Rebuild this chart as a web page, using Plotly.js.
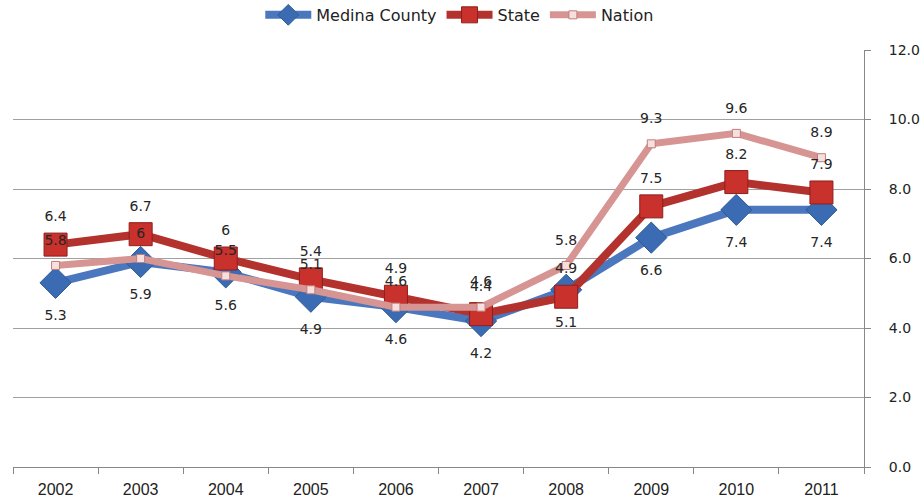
<!DOCTYPE html>
<html><head><meta charset="utf-8">
<script src="https://cdn.plot.ly/plotly-3.0.1.min.js"></script>
<style>html,body{margin:0;padding:0;background:#fff;}#chart{width:921px;height:498px;}</style>
</head><body><div id="chart"></div>
<script>
const years = ['2002','2003','2004','2005','2006','2007','2008','2009','2010','2011'];
const medina = [5.3,5.9,5.6,4.9,4.6,4.2,5.1,6.6,7.4,7.4];
const state = [6.4,6.7,6.0,5.4,4.9,4.4,4.9,7.5,8.2,7.9];
const nation = [5.8,6.0,5.5,5.1,4.6,4.6,5.8,9.3,9.6,8.9];
const yTicks = [0,2,4,6,8,10,12];

const labelFont = {family:'DejaVu Sans, Verdana, sans-serif', size:14, color:'#262626'};
const traces = [
  {x:years, y:medina, name:'Medina County', type:'scatter', mode:'lines+markers',
   line:{color:'#4a77bd', width:8},
   marker:{symbol:'diamond', size:24, color:'#3b6cb3', line:{color:'#2f5a96', width:1}}},
  {x:years, y:state, name:'State', type:'scatter', mode:'lines+markers',
   line:{color:'#b3322e', width:8},
   marker:{symbol:'square', size:23, color:'#c8312c', line:{color:'#8e1f1c', width:1}}},
  {x:years, y:nation, name:'Nation', type:'scatter', mode:'lines+markers',
   line:{color:'#d69593', width:7},
   marker:{symbol:'square', size:8, color:'#f6e0df', line:{color:'#c27c7a', width:1}}}
];

// data-label traces: transparent markers only set the label offset
function labelTrace(vals, pos, gap){
  return {x:years, y:vals, type:'scatter', mode:'markers+text', showlegend:false, hoverinfo:'skip',
    text:vals.map(v=>String(v)), textposition:pos, textfont:labelFont, cliponaxis:false,
    marker:{size:gap, color:'rgba(0,0,0,0)', line:{width:0}}};
}
traces.push(labelTrace(medina,'bottom center',41));
traces.push(labelTrace(state,'top center',30));
traces.push(labelTrace(nation,'top center',26));

const layout = {
  width:921, height:498,
  margin:{l:13, r:57, t:50, b:31},
  paper_bgcolor:'#fff', plot_bgcolor:'#fff',
  showlegend:true,
  legend:{orientation:'h', xref:'paper', x:0.525, xanchor:'center', yref:'container', y:0.97, yanchor:'middle',
    itemwidth:46,
    font:{family:'DejaVu Sans, Verdana, sans-serif', size:16, color:'#222'}, traceorder:'normal'},
  xaxis:{type:'category', range:[-0.5,9.5], tickson:'boundaries', ticks:'outside', ticklen:6,
    tickcolor:'#888', showline:true, linecolor:'#888', linewidth:1, showgrid:false, zeroline:false,
    ticklabelstandoff:8,
    tickfont:{family:'Liberation Sans, Arial, sans-serif', size:16, color:'#222'}},
  yaxis:{side:'right', range:[0,12], tickvals:yTicks, ticktext:yTicks.map(v=>v.toFixed(1)),
    ticks:'outside', ticklen:6, tickcolor:'#888', showline:true, linecolor:'#888', linewidth:1,
    showgrid:true, gridcolor:'#a0a0a0', gridwidth:1, zeroline:false, ticklabelstandoff:15,
    tickfont:{family:'DejaVu Sans, Verdana, sans-serif', size:14, color:'#222'}}
};
Plotly.newPlot('chart', traces, layout, {displayModeBar:false, responsive:false});
</script></body></html>
